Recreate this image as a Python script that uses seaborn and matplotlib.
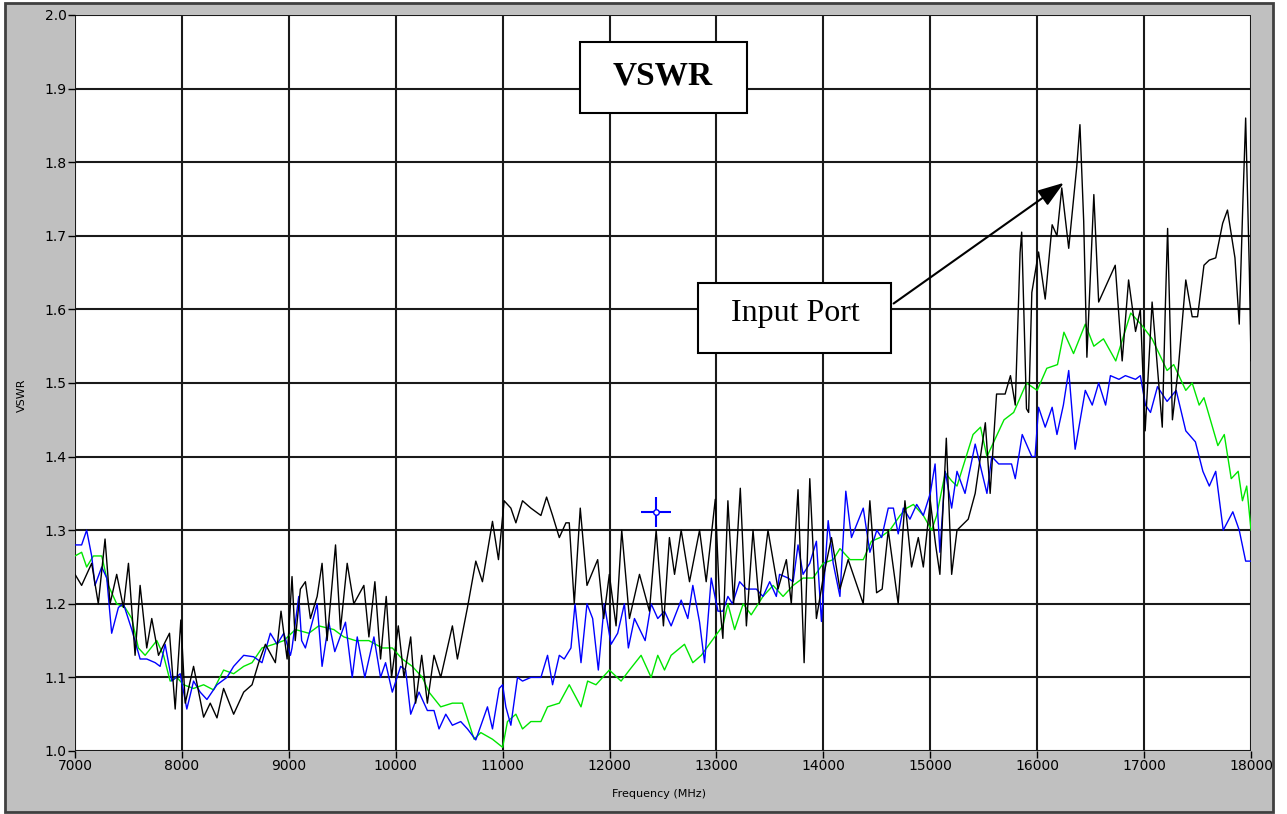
import matplotlib
matplotlib.use("Agg")
import matplotlib.pyplot as plt
import matplotlib.patches as mpatches
import seaborn as sns
import pandas as pd

# black trace (input port) as (MHz, VSWR)
black = [(7000, 1.24), (7062, 1.225), (7109, 1.24), (7156, 1.255), (7218, 1.20), (7281, 1.288),
         (7328, 1.20), (7390, 1.24), (7453, 1.195), (7500, 1.255), (7562, 1.13), (7609, 1.225),
         (7671, 1.14), (7718, 1.18), (7781, 1.13), (7884, 1.16), (7937, 1.057), (7990, 1.178),
         (8031, 1.065), (8109, 1.115), (8203, 1.046), (8265, 1.065), (8328, 1.045), (8390, 1.085),
         (8484, 1.05), (8578, 1.08), (8656, 1.09), (8718, 1.12), (8781, 1.145), (8874, 1.12),
         (8927, 1.19), (8984, 1.125), (9030, 1.237), (9060, 1.15), (9108, 1.22), (9155, 1.23),
         (9202, 1.18), (9265, 1.21), (9311, 1.255), (9358, 1.15), (9437, 1.28), (9483, 1.165),
         (9546, 1.255), (9608, 1.20), (9702, 1.225), (9749, 1.155), (9805, 1.23), (9858, 1.125),
         (9911, 1.21), (9961, 1.10), (10024, 1.17), (10077, 1.10), (10140, 1.155), (10186, 1.065),
         (10243, 1.13), (10296, 1.065), (10358, 1.13), (10421, 1.10), (10530, 1.17), (10577, 1.125),
         (10671, 1.195), (10749, 1.258), (10811, 1.23), (10905, 1.312), (10961, 1.26), (11014, 1.34),
         (11077, 1.33), (11124, 1.31), (11186, 1.34), (11264, 1.33), (11358, 1.32), (11411, 1.345),
         (11467, 1.32), (11530, 1.29), (11592, 1.31), (11623, 1.31), (11670, 1.20), (11726, 1.33),
         (11789, 1.225), (11889, 1.26), (11945, 1.18), (11998, 1.24), (12061, 1.17), (12114, 1.30),
         (12186, 1.18), (12280, 1.24), (12373, 1.19), (12436, 1.30), (12504, 1.17), (12560, 1.29),
         (12608, 1.24), (12670, 1.30), (12748, 1.23), (12842, 1.30), (12904, 1.23), (12989, 1.342),
         (13030, 1.20), (13060, 1.153), (13107, 1.34), (13160, 1.20), (13223, 1.357), (13280, 1.17),
         (13342, 1.30), (13400, 1.20), (13482, 1.30), (13576, 1.22), (13654, 1.26), (13700, 1.20),
         (13763, 1.355), (13820, 1.12), (13873, 1.37), (13935, 1.18), (13998, 1.235), (14076, 1.29),
         (14155, 1.22), (14232, 1.26), (14373, 1.20), (14435, 1.34), (14498, 1.215), (14550, 1.22),
         (14607, 1.30), (14700, 1.20), (14763, 1.34), (14825, 1.25), (14888, 1.29), (14935, 1.25),
         (15000, 1.34), (15050, 1.28), (15090, 1.24), (15150, 1.425), (15200, 1.24), (15250, 1.30),
         (15355, 1.315), (15420, 1.35), (15515, 1.446), (15560, 1.35), (15620, 1.485), (15700, 1.485),
         (15750, 1.51), (15795, 1.47), (15840, 1.677), (15855, 1.705), (15900, 1.465), (15920, 1.46),
         (15950, 1.623), (16013, 1.678), (16075, 1.614), (16140, 1.715), (16185, 1.70), (16230, 1.765),
         (16295, 1.683), (16370, 1.794), (16400, 1.851), (16435, 1.72), (16465, 1.535), (16530, 1.756),
         (16575, 1.61), (16730, 1.66), (16795, 1.53), (16855, 1.64), (16920, 1.57), (16965, 1.60),
         (17010, 1.435), (17075, 1.61), (17170, 1.44), (17200, 1.61), (17220, 1.71), (17265, 1.45),
         (17320, 1.52), (17390, 1.64), (17450, 1.59), (17500, 1.59), (17560, 1.66), (17610, 1.667),
         (17670, 1.67), (17735, 1.717), (17780, 1.735), (17850, 1.67), (17890, 1.58), (17925, 1.75),
         (17950, 1.86), (17985, 1.65), (18000, 1.53)]

# blue trace
blue = [(7000, 1.28), (7062, 1.28), (7109, 1.30), (7156, 1.265), (7187, 1.225), (7250, 1.25),
        (7297, 1.235), (7343, 1.16), (7406, 1.195), (7453, 1.20), (7531, 1.165), (7609, 1.125),
        (7671, 1.125), (7750, 1.12), (7796, 1.115), (7843, 1.145), (7906, 1.095), (7984, 1.105),
        (8046, 1.057), (8109, 1.095), (8171, 1.08), (8234, 1.07), (8328, 1.09), (8421, 1.10),
        (8484, 1.115), (8578, 1.13), (8671, 1.128), (8749, 1.12), (8827, 1.16), (8890, 1.145),
        (8953, 1.16), (9015, 1.13), (9030, 1.14), (9093, 1.21), (9120, 1.15), (9155, 1.14),
        (9265, 1.20), (9311, 1.115), (9374, 1.175), (9430, 1.135), (9530, 1.175), (9593, 1.10),
        (9640, 1.155), (9711, 1.10), (9796, 1.155), (9858, 1.10), (9905, 1.12), (9968, 1.08),
        (10046, 1.115), (10093, 1.11), (10140, 1.05), (10218, 1.08), (10296, 1.055), (10358, 1.055),
        (10405, 1.03), (10468, 1.05), (10530, 1.035), (10608, 1.04), (10671, 1.03), (10749, 1.015),
        (10858, 1.06), (10905, 1.03), (10968, 1.085), (11000, 1.09), (11030, 1.06), (11077, 1.035),
        (11139, 1.10), (11186, 1.095), (11264, 1.10), (11358, 1.10), (11420, 1.13), (11467, 1.09),
        (11530, 1.13), (11576, 1.125), (11639, 1.14), (11677, 1.20), (11733, 1.12), (11789, 1.20),
        (11842, 1.18), (11895, 1.11), (11951, 1.20), (12014, 1.145), (12076, 1.16), (12139, 1.20),
        (12176, 1.14), (12233, 1.18), (12333, 1.15), (12389, 1.20), (12451, 1.18), (12514, 1.19),
        (12576, 1.17), (12670, 1.205), (12732, 1.18), (12779, 1.225), (12842, 1.175), (12889, 1.12),
        (12951, 1.235), (13014, 1.19), (13060, 1.19), (13107, 1.21), (13150, 1.20), (13217, 1.23),
        (13280, 1.22), (13373, 1.22), (13435, 1.21), (13498, 1.23), (13560, 1.21), (13590, 1.24),
        (13670, 1.235), (13717, 1.23), (13763, 1.28), (13810, 1.24), (13873, 1.255), (13935, 1.285),
        (13982, 1.176), (14045, 1.313), (14092, 1.255), (14155, 1.21), (14210, 1.353), (14263, 1.29),
        (14373, 1.33), (14435, 1.27), (14500, 1.30), (14545, 1.29), (14607, 1.33), (14655, 1.33),
        (14700, 1.295), (14748, 1.33), (14810, 1.315), (14873, 1.335), (14935, 1.32), (15000, 1.35),
        (15045, 1.39), (15060, 1.35), (15090, 1.27), (15140, 1.38), (15200, 1.33), (15250, 1.38),
        (15325, 1.35), (15420, 1.417), (15530, 1.35), (15575, 1.40), (15640, 1.39), (15760, 1.39),
        (15795, 1.37), (15860, 1.43), (15950, 1.40), (15980, 1.40), (16013, 1.467), (16075, 1.44),
        (16140, 1.467), (16185, 1.43), (16245, 1.47), (16295, 1.517), (16355, 1.41), (16450, 1.49),
        (16515, 1.47), (16575, 1.50), (16640, 1.47), (16685, 1.51), (16765, 1.505), (16825, 1.51),
        (16920, 1.505), (16965, 1.51), (17013, 1.47), (17060, 1.46), (17125, 1.495), (17215, 1.475),
        (17300, 1.49), (17390, 1.435), (17480, 1.42), (17550, 1.38), (17610, 1.36), (17670, 1.38),
        (17740, 1.30), (17830, 1.325), (17890, 1.30), (17950, 1.258), (18000, 1.258)]

# green trace
green = [(7000, 1.265), (7062, 1.27), (7109, 1.25), (7172, 1.265), (7250, 1.265), (7312, 1.225),
         (7390, 1.20), (7468, 1.195), (7531, 1.18), (7593, 1.14), (7656, 1.13), (7765, 1.15),
         (7828, 1.13), (7890, 1.095), (7953, 1.10), (8015, 1.09), (8109, 1.085), (8203, 1.09),
         (8296, 1.083), (8390, 1.11), (8484, 1.105), (8578, 1.115), (8656, 1.12), (8749, 1.14),
         (8859, 1.145), (8953, 1.15), (9062, 1.165), (9187, 1.16), (9280, 1.17), (9421, 1.165),
         (9515, 1.155), (9624, 1.15), (9749, 1.15), (9874, 1.14), (9968, 1.14), (10061, 1.125),
         (10155, 1.115), (10249, 1.10), (10311, 1.08), (10421, 1.06), (10530, 1.065), (10624, 1.065),
         (10733, 1.016), (10796, 1.025), (10905, 1.016), (11000, 1.005), (11045, 1.04), (11124, 1.05),
         (11186, 1.03), (11264, 1.04), (11358, 1.04), (11420, 1.06), (11530, 1.065), (11623, 1.09),
         (11733, 1.06), (11795, 1.095), (11873, 1.09), (11998, 1.11), (12108, 1.095), (12186, 1.11),
         (12295, 1.13), (12389, 1.10), (12451, 1.13), (12514, 1.11), (12576, 1.13), (12701, 1.145),
         (12779, 1.12), (12858, 1.13), (12983, 1.155), (13060, 1.17), (13107, 1.20), (13170, 1.165),
         (13250, 1.20), (13325, 1.185), (13435, 1.21), (13530, 1.225), (13623, 1.21), (13717, 1.225),
         (13810, 1.235), (13904, 1.235), (13998, 1.255), (14092, 1.26), (14155, 1.275), (14250, 1.26),
         (14373, 1.26), (14450, 1.285), (14530, 1.29), (14622, 1.30), (14717, 1.32), (14780, 1.33),
         (14842, 1.335), (14935, 1.32), (15013, 1.30), (15060, 1.32), (15140, 1.378), (15200, 1.367),
         (15250, 1.36), (15400, 1.43), (15470, 1.44), (15530, 1.40), (15690, 1.45), (15780, 1.46),
         (15900, 1.50), (16000, 1.49), (16090, 1.52), (16190, 1.525), (16250, 1.569), (16340, 1.54),
         (16450, 1.58), (16530, 1.55), (16620, 1.56), (16735, 1.53), (16875, 1.595), (16970, 1.58),
         (17075, 1.56), (17215, 1.517), (17277, 1.525), (17390, 1.49), (17450, 1.50), (17515, 1.47),
         (17560, 1.48), (17690, 1.415), (17750, 1.43), (17815, 1.37), (17880, 1.38), (17920, 1.34),
         (17960, 1.36), (18000, 1.30)]

x_ticks = [7000, 8000, 9000, 10000, 11000, 12000, 13000, 14000, 15000, 16000, 17000, 18000]
y_ticks = [1.0, 1.1, 1.2, 1.3, 1.4, 1.5, 1.6, 1.7, 1.8, 1.9, 2.0]
cursor = (12436, 1.325)
arrow_tip = (16250, 1.772)
arrow_tail = (14657, 1.608)

sns.set_style("white")
plt.rcParams['font.family'] = ['DejaVu Sans']

W, H = 1287, 814
fig = plt.figure(figsize=(W / 100, H / 100), dpi=100, facecolor='white')

# grey panel behind the plot (kept under the axes)
fig.patches.append(mpatches.Rectangle((5 / W, 1 - 812 / H), 1268 / W, 809 / H,
                                      transform=fig.transFigure, facecolor='#c0c0c0',
                                      edgecolor='#404040', linewidth=2, zorder=-10))

ax = fig.add_axes([75 / W, 1 - 751 / H, 1176 / W, 736 / H])
ax.set_facecolor('white')

for data, color in [(green, '#00e600'), (blue, '#0000ff'), (black, '#000000')]:
    df = pd.DataFrame(data, columns=['freq', 'vswr'])
    sns.lineplot(data=df, x='freq', y='vswr', color=color, linewidth=1.0,
                 estimator=None, sort=False, ax=ax, zorder=3)

ax.set_xlim(7000, 18000)
ax.set_ylim(1.0, 2.0)
ax.set_xticks(x_ticks)
ax.set_yticks(y_ticks)
ax.set_yticklabels([f"{v:.1f}" for v in y_ticks])
ax.grid(True, color='#1a1a1a', linewidth=1.5, zorder=1)
ax.set_axisbelow(True)
for s in ax.spines.values():
    s.set_visible(False)
ax.tick_params(axis='both', direction='out', length=5, width=1, color='black',
               labelcolor='black', labelsize=10, pad=1, left=True, bottom=True)

ax.set_xlabel('Frequency (MHz)', fontsize=8, color='black')
ax.set_ylabel('VSWR', fontsize=8, color='black')
ax.xaxis.set_label_coords(0.497, -0.052)
ax.yaxis.set_label_coords(-0.041, 0.484)

# cursor marker
ax.plot([cursor[0]], [cursor[1]], marker='+', color='#0000ff', markersize=22, mew=1.5, zorder=5)
ax.plot([cursor[0]], [cursor[1]], marker='o', mfc='white', mec='#0000ff', markersize=4, mew=1, zorder=6)

# title box
fig.patches.append(mpatches.Rectangle((580 / W, 1 - 113 / H), 167 / W, 71 / H,
                                      transform=fig.transFigure, facecolor='white',
                                      edgecolor='black', linewidth=1.5, zorder=5))
fig.text(663 / W, 1 - 76 / H, 'VSWR', fontsize=24, fontweight='bold', family='Liberation Serif',
         color='black', ha='center', va='center', zorder=6)

# input port label with arrow
fig.patches.append(mpatches.Rectangle((698 / W, 1 - 353 / H), 193 / W, 70 / H,
                                      transform=fig.transFigure, facecolor='white',
                                      edgecolor='black', linewidth=1.5, zorder=5))
fig.text(795 / W, 1 - 314 / H, 'Input Port', fontsize=23, family='Liberation Serif',
         color='black', ha='center', va='center', zorder=6)
ax.annotate('', xy=arrow_tip, xytext=arrow_tail,
            arrowprops=dict(arrowstyle='-|>,head_length=1.6,head_width=0.55', color='black',
                            lw=1.5, shrinkA=0, shrinkB=0), zorder=6)

plt.savefig('out.png', dpi=100, facecolor='white')
